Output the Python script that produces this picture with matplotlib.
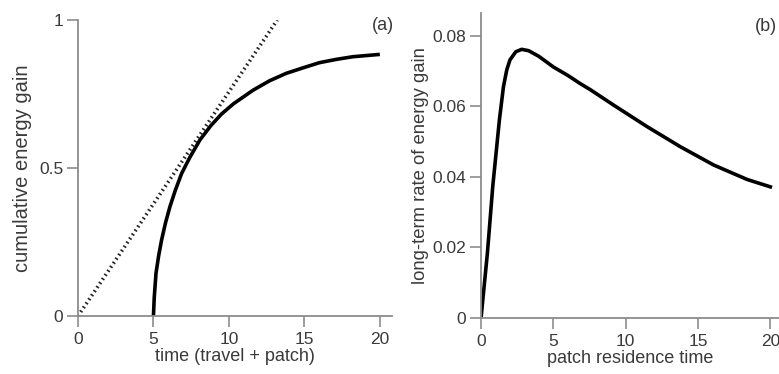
import matplotlib
matplotlib.use('Agg')
import matplotlib.pyplot as plt

# (a) cumulative energy gain vs time (travel + patch)
gain_t = [5.0, 5.05, 5.17, 5.35, 5.54, 5.8, 6.09, 6.45, 6.87, 7.4, 8.08, 8.8,
          9.5, 10.3, 11.6, 12.7, 13.8, 15.0, 16.0, 17.1, 18.2, 19.1, 20.0]
gain_y = [0.0, 0.06, 0.145, 0.205, 0.257, 0.315, 0.369, 0.425, 0.482, 0.535,
          0.595, 0.643, 0.682, 0.717, 0.763, 0.795, 0.82, 0.84, 0.856, 0.867,
          0.876, 0.88, 0.884]
tangent_t = [0.0, 13.2]
tangent_y = [0.0, 1.0]

# (b) long-term rate of energy gain vs patch residence time
rate_t = [0.0, 0.44, 0.81, 1.27, 1.55, 1.78, 2.0, 2.4, 2.81, 3.3, 4.0, 5.0,
          6.0, 6.85, 7.54, 9.16, 11.47, 13.77, 16.08, 18.39, 20.0]
rate_y = [0.0, 0.0184, 0.0373, 0.0562, 0.0656, 0.0704, 0.0732, 0.0755, 0.0762,
          0.0758, 0.0742, 0.0712, 0.0688, 0.0665, 0.0648, 0.0604, 0.0543,
          0.0486, 0.0434, 0.0393, 0.0372]

plt.rcParams['font.family'] = ['Liberation Sans', 'DejaVu Sans']
axis_col = '#8c8c8c'
text_col = '#3a3a3a'

fig = plt.figure(figsize=(7.79, 3.74), dpi=100)
ax1 = fig.add_axes([0.1001, 0.155, 0.403, 0.7914])
ax2 = fig.add_axes([0.6175, 0.1497, 0.3825, 0.8155])


def style(ax):
    for s in ['top', 'right']:
        ax.spines[s].set_visible(False)
    for s in ['left', 'bottom']:
        ax.spines[s].set_color(axis_col)
        ax.spines[s].set_linewidth(1.3)
    ax.tick_params(direction='out', length=8, width=1.2, color=axis_col,
                   labelcolor=text_col, labelsize=12.5)
    ax.tick_params(axis='x', pad=3.5)
    ax.tick_params(axis='y', pad=2.5)


ax1.plot(gain_t, gain_y, color='black', lw=2.6, solid_capstyle='butt')
ax1.plot(tangent_t, tangent_y, color='#222222', lw=2.6, linestyle=(0, (0.45, 0.9)))
ax1.set_xlim(0, 20.8)
ax1.set_ylim(0, 1)
ax1.set_xticks([0, 5, 10, 15, 20])
ax1.set_yticks([0, 0.5, 1])
ax1.set_yticklabels(['0', '0.5', '1'])
ax1.set_xlabel('time (travel + patch)', fontsize=13, color=text_col, labelpad=1)
ax1.set_ylabel('cumulative energy gain', fontsize=14.5, color=text_col, labelpad=5)
ax1.text(0.97, 1.01, '(a)', transform=ax1.transAxes, ha='center', va='top',
         fontsize=13, color=text_col)
style(ax1)

ax2.plot(rate_t, rate_y, color='black', lw=2.6)
ax2.set_xlim(0, 20.6)
ax2.set_ylim(0, 0.0865)
ax2.set_xticks([0, 5, 10, 15, 20])
ax2.set_yticks([0, 0.02, 0.04, 0.06, 0.08])
ax2.set_yticklabels(['0', '0.02', '0.04', '0.06', '0.08'])
ax2.set_xlabel('patch residence time', fontsize=13, color=text_col, labelpad=1)
ax2.set_ylabel('long-term rate of energy gain', fontsize=13.3, color=text_col, labelpad=3)
ax2.text(0.955, 0.985, '(b)', transform=ax2.transAxes, ha='center', va='top',
         fontsize=13, color=text_col)
style(ax2)

fig.savefig('out.png', dpi=100)
